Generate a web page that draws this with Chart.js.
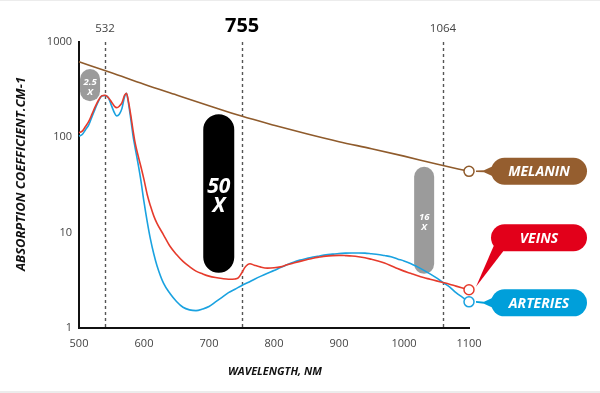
<!DOCTYPE html>
<html><head><meta charset="utf-8">
<script src="https://cdn.jsdelivr.net/npm/chart.js@4.4.0/dist/chart.umd.min.js"></script>
<style>html,body{margin:0;padding:0;background:#fff;overflow:hidden}#wrap{width:600px;height:393px;position:relative}</style>
</head><body><div id="wrap"><canvas id="c" width="600" height="393"></canvas></div>
<script>
// ---------- data ----------
const xTicks = [500, 600, 700, 800, 900, 1000, 1100];
const yTicks = [1, 10, 100, 1000];

const melaninWl = [500, 550, 600, 650, 700, 750, 800, 850, 900, 950, 1000, 1050, 1100];
const melanin   = [620, 475, 360, 278, 215, 167, 134, 109, 90, 76, 63.5, 52.5, 44];

const arteriesWl = [500,505,510,515,520,525,530,535,540,545,550,555,558,562,566,570,573,576,580,583,586,590,595,600,605,610,615,620,630,640,650,660,670,680,690,700,710,720,730,740,750,760,770,780,790,800,810,820,830,840,850,860,870,880,890,900,910,920,930,940,950,960,970,980,990,1000,1010,1020,1030,1040,1050,1060,1070,1080,1090,1100];
const arteries   = [103,107,120,135,165,200,240,272,275,262,215,178,168,175,200,265,290,230,150,105,80,57,36,21,13,8.5,6,4.5,2.95,2.3,1.9,1.65,1.55,1.52,1.58,1.68,1.88,2.1,2.35,2.55,2.78,3.0,3.25,3.5,3.75,4.0,4.3,4.6,4.9,5.15,5.35,5.55,5.7,5.85,5.95,6.05,6.1,6.12,6.12,6.1,6.0,5.9,5.75,5.6,5.3,5.05,4.75,4.4,4.05,3.7,3.35,3.0,2.7,2.35,2.1,1.88];

const veinsWl = [500,505,510,515,520,525,530,535,540,545,550,555,558,562,566,570,573,576,580,583,586,590,595,600,605,610,615,620,630,640,650,660,670,680,690,700,710,720,730,740,745,750,755,760,763,770,780,790,800,810,820,830,840,850,860,870,880,890,900,910,920,930,940,950,960,970,980,990,1000,1010,1020,1030,1040,1050,1060,1070,1080,1090,1100];
const veins   = [112,116,130,147,175,210,245,272,276,262,235,210,205,212,230,275,290,240,165,120,90,68,50,36,25,19,15,12.5,9.5,7.2,5.9,5.0,4.4,3.95,3.7,3.5,3.38,3.3,3.25,3.27,3.35,3.75,4.3,4.65,4.72,4.55,4.35,4.25,4.28,4.38,4.6,4.8,5.0,5.2,5.4,5.55,5.68,5.75,5.78,5.75,5.7,5.6,5.45,5.25,5.05,4.8,4.5,4.2,3.95,3.75,3.55,3.38,3.25,3.12,3.0,2.88,2.75,2.63,2.52];

const seriesNames = ['MELANIN', 'VEINS', 'ARTERIES'];
const xTitle = 'WAVELENGTH, NM';
const yTitle = 'ABSORPTION COEFFICIENT.CM-1';

const laserWl = [540, 751, 1060];          // where the laser lines sit on the axis
const laserLabels = ['532', '755', '1064'];

const ratioLabels = [['2.5', 'X'], ['50', 'X'], ['16', 'X']];
const ratioWl     = [517, 715, 1031];
const ratioHigh   = [520, 175, 49];
const ratioLow    = [239, 3.8, 3.7];

// ---------- styles ----------
const C = {
  melanin: '#8f5b2c', melaninPill: '#955e2f',
  veins: '#e63b2c', veinsPill: '#e2001a',
  arteries: '#1aa2e0', arteriesPill: '#009fda'
};

function pts(xs, ys){ return xs.map((v,i)=>({x:v, y:ys[i]})); }
function lastOnly(n){ return ctx => ctx.dataIndex === n-1 ? 5 : 0; }

function fitFont(ctx, text, targetW, pre){
  ctx.font = pre + ' 10px "Open Sans"';
  const w = ctx.measureText(text).width;
  const size = Math.min(16, 10 * targetW / w);
  return pre + ' ' + size.toFixed(2) + 'px "Open Sans"';
}

function rr(ctx, x, y, w, h, r){
  r = Math.min(r, w/2, h/2);
  ctx.beginPath();
  ctx.moveTo(x+r, y);
  ctx.lineTo(x+w-r, y);
  ctx.arc(x+w-r, y+r, r, -Math.PI/2, 0);
  ctx.lineTo(x+w, y+h-r);
  ctx.arc(x+w-r, y+h-r, r, 0, Math.PI/2);
  ctx.lineTo(x+r, y+h);
  ctx.arc(x+r, y+h-r, r, Math.PI/2, Math.PI);
  ctx.lineTo(x, y+r);
  ctx.arc(x+r, y+r, r, Math.PI, Math.PI*1.5);
  ctx.closePath();
}

const deco = {
  id: 'deco',
  beforeDraw(chart){
    const c = chart.ctx;
    c.save();
    c.fillStyle = '#fff'; c.fillRect(0,0,600,393);
    c.fillStyle = '#ececec'; c.fillRect(0,0,600,1); c.fillRect(0,391,600,2);
    c.restore();
  },
  beforeDatasetsDraw(chart){
    const {ctx, scales:{x, y}, chartArea:a} = chart;
    ctx.save();
    // axis titles
    ctx.textAlign = 'center'; ctx.textBaseline = 'middle';
    ctx.fillStyle = '#111';
    ctx.save();
    ctx.translate(21, (a.top + a.bottom)/2 - 11);
    ctx.rotate(-Math.PI/2);
    ctx.font = fitFont(ctx, yTitle, 194, 'italic bold');
    ctx.fillText(yTitle, 0, 0);
    ctx.restore();
    ctx.font = fitFont(ctx, xTitle, 94, 'italic bold');
    ctx.fillText(xTitle, (a.left + a.right)/2 + 1, 372);
    // laser lines
    ctx.strokeStyle = '#555'; ctx.lineWidth = 1.4; ctx.setLineDash([3,3]);
    laserWl.forEach(wl => {
      const px = Math.round(x.getPixelForValue(wl)) + 0.5;
      ctx.beginPath(); ctx.moveTo(px, a.top); ctx.lineTo(px, a.bottom); ctx.stroke();
    });
    ctx.setLineDash([]);
    laserWl.forEach((wl, i) => {
      const px = x.getPixelForValue(wl);
      if (i === 1) { ctx.font = 'bold 20px "Open Sans"'; ctx.fillStyle = '#000'; ctx.fillText(laserLabels[i], px, 26); }
      else { ctx.font = '11.5px "Open Sans"'; ctx.fillStyle = '#444'; ctx.fillText(laserLabels[i], px, 29); }
    });
    // ratio pills
    ratioWl.forEach((wl, i) => {
      const big = i === 1;
      const w = big ? 31 : 20;
      const cx = x.getPixelForValue(wl);
      const t = y.getPixelForValue(ratioHigh[i]);
      const b = y.getPixelForValue(ratioLow[i]);
      ctx.fillStyle = big ? '#000' : '#9b9b9b';
      rr(ctx, cx - w/2, t, w, b - t, w/2); ctx.fill();
      ctx.fillStyle = '#fff';
      ctx.font = big ? 'italic bold 21px "Open Sans"' : 'italic bold 9.5px "Open Sans"';
      const mid = (t + b)/2 + (big ? 3 : 2);
      const gap = big ? 19 : 9.5;
      ctx.fillText(ratioLabels[i][0], cx, mid - gap/2);
      ctx.fillText(ratioLabels[i][1], cx, mid + gap/2);
    });
    ctx.restore();
  },
  afterDatasetsDraw(chart){
    const {ctx, scales:{x, y}, chartArea:a} = chart;
    const ends = [melanin[melanin.length-1], veins[veins.length-1], arteries[arteries.length-1]];
    const fills = [C.melaninPill, C.veinsPill, C.arteriesPill];
    const pl = a.right + 22, pw = 96, ph = 27;
    const tipX = x.getPixelForValue(1100) + 7;
    ctx.save();
    ends.forEach((v, i) => {
      const ey = y.getPixelForValue(v);
      const cy = i === 1 ? ey - 52 : ey + (i === 2 ? 1 : 0);
      ctx.fillStyle = fills[i];
      ctx.beginPath();
      if (i === 1) {
        ctx.moveTo(tipX, ey - 3);
        ctx.lineTo(pl + 3, cy + ph/2 - 6);
        ctx.lineTo(pl + 13, cy + ph/2 - 1);
        ctx.closePath();
      } else {
        ctx.moveTo(tipX, ey - 0.8);
        ctx.lineTo(pl - 7, cy - 1);
        ctx.lineTo(pl + 4, cy - 6);
        ctx.lineTo(pl + 4, cy + 6);
        ctx.lineTo(pl - 7, cy + 1);
        ctx.lineTo(tipX, ey + 0.8);
        ctx.closePath();
      }
      ctx.fill();
      rr(ctx, pl, cy - ph/2, pw, ph, ph/2); ctx.fill();
      ctx.fillStyle = '#fff';
      ctx.font = 'italic bold 14px "Open Sans"';
      ctx.textAlign = 'center'; ctx.textBaseline = 'middle';
      ctx.fillText(seriesNames[i], pl + pw/2, cy + 1);
    });
    ctx.restore();
  }
};

const ds = (label, xs, ys, col) => ({
  label, data: pts(xs, ys), borderColor: col, borderWidth: 1.6,
  pointRadius: lastOnly(xs.length), pointBackgroundColor: '#fff',
  pointBorderColor: col, pointBorderWidth: 1.5,
  cubicInterpolationMode: 'monotone', fill: false, clip: false
});

new Chart(document.getElementById('c'), {
  type: 'line',
  data: { datasets: [
    ds(seriesNames[0], melaninWl, melanin, C.melanin),
    ds(seriesNames[1], veinsWl, veins, C.veins),
    ds(seriesNames[2], arteriesWl, arteries, C.arteries)
  ]},
  options: {
    responsive: false, animation: false, events: [],
    layout: { padding: { left: 0, right: 131, top: 42, bottom: 0 } },
    plugins: { legend: { display: false }, tooltip: { enabled: false } },
    scales: {
      x: {
        type: 'linear', min: 500, max: 1100,
        afterBuildTicks: s => { s.ticks = xTicks.map(v => ({value: v})); },
        afterFit: s => { s.height = 65; },
        grid: { display: false, drawTicks: false },
        border: { display: true, color: '#111', width: 2 },
        ticks: { color: '#444', font: { family: 'Open Sans', size: 11 }, padding: 9, maxRotation: 0,
                 callback: v => String(v) }
      },
      y: {
        type: 'logarithmic', min: 1, max: 1000,
        afterBuildTicks: s => { s.ticks = yTicks.map(v => ({value: v})); },
        afterFit: s => { s.width = 79; },
        grid: { display: false, drawTicks: false },
        border: { display: true, color: '#111', width: 2 },
        ticks: { color: '#444', font: { family: 'Open Sans', size: 11 }, padding: 7,
                 callback: v => String(v) }
      }
    }
  },
  plugins: [deco]
});
</script>
</body></html>
